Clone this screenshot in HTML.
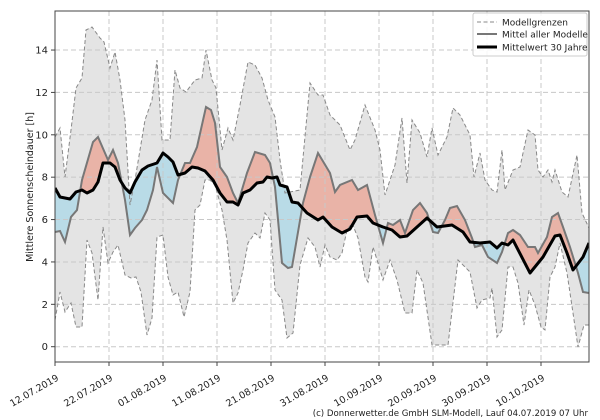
<!DOCTYPE html>
<html><head><meta charset="utf-8"><style>
html,body{margin:0;padding:0;background:#fff}
svg{display:block;font-family:"DejaVu Sans","Liberation Sans",sans-serif}
</style></head><body>
<svg id="s" width="600" height="420" viewBox="0 0 600 420" xmlns="http://www.w3.org/2000/svg">
<defs>
<clipPath id="plot"><rect x="55" y="11" width="534" height="351"/></clipPath>
<clipPath id="aboveBlack"><path id="cAB"/></clipPath>
<clipPath id="aboveModel"><path id="cAM"/></clipPath>
</defs>
<rect x="55" y="11" width="534" height="351" fill="#fff"/>
<g clip-path="url(#plot)">
<path id="band" fill="#e4e4e4" stroke="none"/>
<path id="pink" fill="#e9b3a7" clip-path="url(#aboveBlack)"/>
<path id="blue" fill="#b9dbe7" clip-path="url(#aboveModel)"/>
<g id="grid" stroke="#c8c8c8" stroke-width="1" stroke-dasharray="5,3" fill="none"></g>
<path id="up" fill="none" stroke="#888" stroke-width="1" stroke-dasharray="4,2.5"/>
<path id="lo" fill="none" stroke="#888" stroke-width="1" stroke-dasharray="4,2.5"/>
<path id="model" fill="none" stroke="#777" stroke-width="2"/>
<path id="black" fill="none" stroke="#000" stroke-width="3" stroke-linejoin="round"/>
</g>
<rect x="55" y="11" width="534" height="351" fill="none" stroke="#444" stroke-width="1"/>
<g id="ticks" font-size="10" fill="#222"></g>
<text transform="translate(33,187) rotate(-90)" text-anchor="middle" font-size="9.5" fill="#222">Mittlere Sonnenscheindauer [h]</text>
<g>
<rect x="473" y="13" width="114" height="43" fill="#fff" fill-opacity="0.85" stroke="#ccc" rx="2"/>
<line x1="477" y1="22" x2="497" y2="22" stroke="#888" stroke-dasharray="4,2.5"/>
<line x1="477" y1="34" x2="497" y2="34" stroke="#777" stroke-width="2"/>
<line x1="477" y1="47" x2="497" y2="47" stroke="#000" stroke-width="3"/>
<text x="502" y="25.5" font-size="9" fill="#222">Modellgrenzen</text>
<text x="502" y="37.5" font-size="9" fill="#222">Mittel aller Modelle</text>
<text x="502" y="50.5" font-size="9" fill="#222">Mittelwert 30 Jahre</text>
</g>
<text x="588" y="416" text-anchor="end" font-size="8.6" fill="#222">(c) Donnerwetter.de GmbH SLM-Modell, Lauf 04.07.2019 07 Uhr</text>
</svg>
<script>
var U=[[55,137],[60,128],[65,177],[71,130],[76,88],[82,78],[86,30],[92,27],[100,38],[104,42],[110,68],[115,52],[120,80],[125,120],[130,205],[135,180],[145,120],[152,100],[157,60],[162,140],[170,140],[175,70],[180,88],[186,92],[195,80],[202,78],[206,50],[212,80],[216,88],[222,150],[228,128],[233,140],[240,105],[248,62],[255,65],[262,78],[268,100],[275,117],[280,160],[285,193],[300,190],[310,83],[318,95],[323,95],[330,115],[340,125],[350,150],[355,140],[365,105],[375,130],[380,150],[385,195],[395,165],[402,118],[407,183],[412,120],[420,133],[427,157],[432,128],[438,155],[447,137],[453,108],[460,115],[470,135],[474,177],[480,153],[485,180],[492,190],[497,192],[502,150],[505,190],[513,170],[520,167],[528,130],[535,135],[538,170],[543,177],[548,170],[552,182],[555,170],[562,192],[568,197],[577,155],[582,213],[589,228]];
var L=[[55,320],[60,292],[65,312],[71,303],[76,327],[82,327],[87,240],[92,253],[98,300],[103,227],[108,263],[113,252],[118,245],[125,275],[131,278],[136,277],[141,292],[147,335],[152,318],[157,237],[163,235],[168,277],[173,295],[178,292],[184,317],[190,292],[195,210],[200,205],[205,180],[210,180],[215,185],[222,210],[227,240],[233,303],[238,293],[243,270],[248,243],[255,233],[260,238],[265,213],[270,220],[275,290],[282,300],[287,338],[293,333],[300,265],[308,238],[315,247],[320,267],[325,245],[330,257],[337,260],[342,253],[347,230],[352,223],[358,238],[365,277],[368,282],[373,247],[378,263],[383,280],[390,260],[397,280],[405,313],[412,313],[417,270],[423,283],[432,345],[448,345],[458,260],[470,272],[477,308],[482,300],[490,298],[492,288],[497,337],[502,330],[508,267],[513,267],[518,283],[524,325],[529,290],[535,305],[541,327],[545,330],[550,277],[555,267],[560,243],[567,273],[573,313],[578,347],[584,325],[589,325]];
var M=[[55,232],[60,231],[65,242],[71,217],[77,210],[82,180],[93,142],[98,137],[108,160],[113,150],[118,163],[125,200],[130,235],[135,228],[142,220],[147,210],[153,190],[157,167],[163,193],[173,203],[178,180],[185,163],[190,163],[197,147],[206,107],[211,110],[215,123],[220,167],[227,177],[233,193],[238,203],[247,173],[255,152],[265,155],[270,163],[275,187],[282,263],[288,268],[292,267],[303,203],[310,177],[318,153],[330,173],[335,192],[340,185],[352,180],[358,190],[367,185],[375,215],[383,243],[388,223],[393,225],[400,220],[405,233],[413,210],[420,203],[427,213],[433,232],[438,233],[445,220],[450,208],[457,206],[465,220],[472,238],[475,247],[482,245],[488,257],[497,263],[502,252],[508,233],[513,230],[520,235],[528,247],[535,247],[538,253],[547,237],[552,217],[558,213],[563,227],[570,247],[578,273],[583,292],[589,293]];
var B=[[55,188],[60,197],[70,199],[76,192],[82,190],[87,193],[93,190],[98,182],[103,163],[110,163],[115,167],[120,180],[125,188],[130,193],[135,182],[142,170],[148,166],[157,163],[163,153],[168,157],[173,162],[178,175],[185,173],[192,167],[198,168],[205,171],[213,180],[220,193],[227,202],[233,202],[238,205],[243,193],[250,190],[257,183],[263,182],[267,177],[272,178],[277,177],[280,185],[287,187],[292,202],[298,203],[307,213],[318,220],[323,217],[332,227],[342,233],[350,229],[357,217],[367,216],[373,223],[383,227],[392,230],[400,237],[407,236],[417,227],[427,218],[437,227],[452,225],[463,232],[470,242],[480,243],[490,242],[497,248],[502,243],[508,245],[513,240],[530,273],[543,257],[555,236],[560,235],[567,253],[573,270],[583,257],[589,243]];
function pl(a){return a.map(function(p,i){return (i?'L':'M')+p[0]+','+p[1]}).join('');}
function rev(a){return a.slice().reverse();}
function $(i){return document.getElementById(i);}
$('band').setAttribute('d',pl(U)+rev(L).map(function(p){return 'L'+p[0]+','+p[1]}).join('')+'Z');
$('up').setAttribute('d',pl(U));$('lo').setAttribute('d',pl(L));
$('model').setAttribute('d',pl(M));$('black').setAttribute('d',pl(B));
$('pink').setAttribute('d',pl(M)+'L589,370L55,370Z');
$('cAB').setAttribute('d',pl(B)+'L589,0L55,0Z');
$('blue').setAttribute('d',pl(B)+'L589,370L55,370Z');
$('cAM').setAttribute('d',pl(M)+'L589,0L55,0Z');
var ns='http://www.w3.org/2000/svg',g=$('grid'),t=$('ticks');
function y(v){return 346.7-v*21.19;}
var labs=['12.07.2019','22.07.2019','01.08.2019','11.08.2019','21.08.2019','31.08.2019','10.09.2019','20.09.2019','30.09.2019','10.10.2019'];
for(var i=0;i<10;i++){var x=55+i*54;
 if(i>0){var l=document.createElementNS(ns,'line');l.setAttribute('x1',x);l.setAttribute('x2',x);l.setAttribute('y1',11);l.setAttribute('y2',362);g.appendChild(l);}
 var tk=document.createElementNS(ns,'line');tk.setAttribute('x1',x);tk.setAttribute('x2',x);tk.setAttribute('y1',362);tk.setAttribute('y2',366);tk.setAttribute('stroke','#444');t.appendChild(tk);
 var tx=document.createElementNS(ns,'text');tx.setAttribute('transform','translate('+(x+1)+',374) rotate(-30)');tx.setAttribute('text-anchor','end');tx.setAttribute('dy','0.7em');tx.setAttribute('font-size','9.5');tx.textContent=labs[i];t.appendChild(tx);}
for(var v=0;v<=14;v+=2){var yy=y(v);
 var l=document.createElementNS(ns,'line');l.setAttribute('x1',55);l.setAttribute('x2',589);l.setAttribute('y1',yy);l.setAttribute('y2',yy);g.appendChild(l);
 var tk=document.createElementNS(ns,'line');tk.setAttribute('x1',51);tk.setAttribute('x2',55);tk.setAttribute('y1',yy);tk.setAttribute('y2',yy);tk.setAttribute('stroke','#444');t.appendChild(tk);
 var tx=document.createElementNS(ns,'text');tx.setAttribute('x',48);tx.setAttribute('y',yy+3.5);tx.setAttribute('text-anchor','end');tx.textContent=v;t.appendChild(tx);}
</script>
</body></html>
